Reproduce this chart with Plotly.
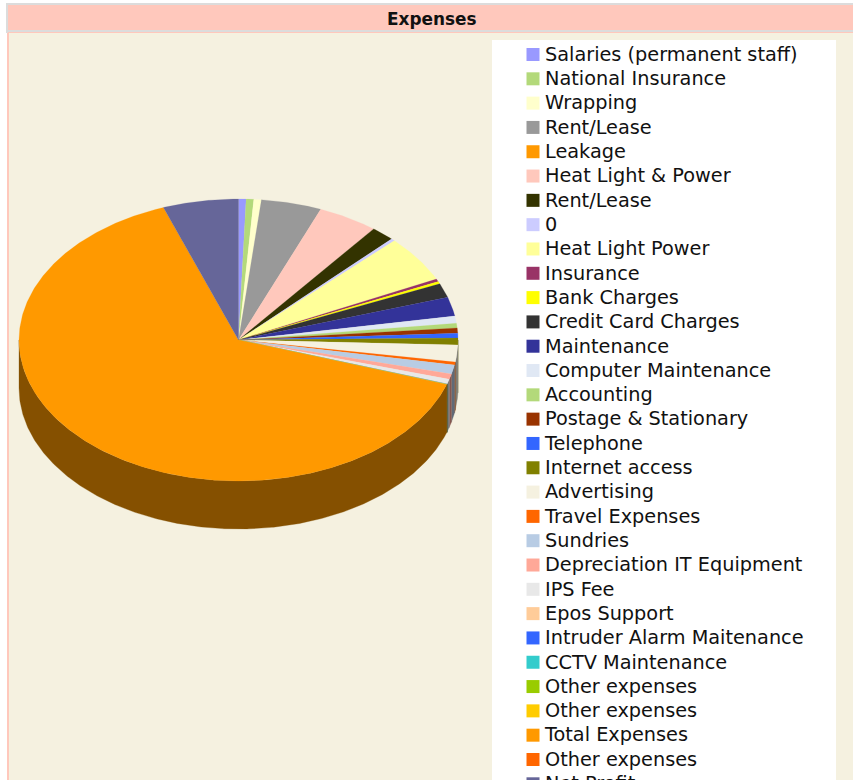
import math
import plotly.graph_objects as go

TITLE = "Expenses"
categories = ["Salaries (permanent staff)", "National Insurance", "Wrapping", "Rent/Lease", "Leakage",
              "Heat Light & Power", "Rent/Lease", "0", "Heat Light Power", "Insurance", "Bank Charges",
              "Credit Card Charges", "Maintenance", "Computer Maintenance", "Accounting",
              "Postage & Stationary", "Telephone", "Internet access", "Advertising", "Travel Expenses",
              "Sundries", "Depreciation IT Equipment", "IPS Fee", "Epos Support", "Intruder Alarm Maitenance",
              "CCTV Maintenance", "Other expenses", "Other expenses", "Total Expenses", "Other expenses",
              "Net Profit"]
# slice sizes (shares of a 360 total)
values = [2.0, 2.0, 2.0, 16.0, 0.0, 16.0, 6.2, 1.0, 19.2, 1.1, 1.0, 5.9, 7.8, 3.0, 1.9, 2.2, 1.9, 2.8,
          7.0, 1.2, 3.8, 2.2, 2.0, 0.05, 0.05, 0.05, 0.05, 0.05, 231.55, 0.0, 20.0]
colors = ["#9999FF", "#B3D97A", "#FFFFCC", "#999999", "#FF9900", "#FFC8BC", "#333300", "#CCCCFF", "#FFFF99",
          "#993366", "#FFFF00", "#333333", "#333399", "#E0E8F4", "#B3D97A", "#993300", "#3366FF", "#808000",
          "#F5F1E0", "#FF6600", "#B8CCE4", "#FFA898", "#E8E8E8", "#FFCC99", "#3366FF", "#33CCCC", "#99CC00",
          "#FFCC00", "#FF9900", "#FF6600", "#666699"]

W, H = 853, 830
CX, CY, RX, RY, DEPTH = 238.5, 340.0, 219.5, 141.0, 48.0
SHADE = 0.52
BG, HEAD, GREY = "#F5F1E0", "#FFC8BC", "#DCDCDC"
FONT = "DejaVu Sans, Verdana, sans-serif"


def shade(c):
    r, g, b = (int(c[i:i + 2], 16) for i in (1, 3, 5))
    return f"rgb({r * SHADE:.0f},{g * SHADE:.0f},{b * SHADE:.0f})"


def rim(deg, dy=0.0):
    a = math.radians(deg)
    return CX + RX * math.sin(a), CY - RY * math.cos(a) + dy


def arc(a0, a1, dy=0.0):
    n = max(2, int((a1 - a0) * 2) + 2)
    return [rim(a0 + (a1 - a0) * k / (n - 1), dy) for k in range(n)]


total = sum(values)
fig = go.Figure()
spans, acc = [], 0.0
for v in values:
    d = v / total * 360
    spans.append((acc, acc + d))
    acc += d

# side wall (only the front half of the cylinder is visible)
for (a0, a1), c, name in zip(spans, colors, categories):
    lo, hi = max(a0, 90), min(a1, 270)
    if hi <= lo:
        continue
    pts = arc(lo, hi) + arc(lo, hi, DEPTH)[::-1]
    fig.add_trace(go.Scatter(x=[p[0] for p in pts] + [pts[0][0]], y=[p[1] for p in pts] + [pts[0][1]],
                             mode="lines", fill="toself", fillcolor=shade(c),
                             line=dict(width=0.3, color=shade(c)), hoverinfo="skip", showlegend=False))
# top face
for (a0, a1), c, name, v in zip(spans, colors, categories, values):
    if a1 <= a0:
        continue
    pts = [(CX, CY)] + arc(a0, a1)
    fig.add_trace(go.Scatter(x=[p[0] for p in pts] + [CX], y=[p[1] for p in pts] + [CY],
                             mode="lines", fill="toself", fillcolor=c, line=dict(width=0.2, color=c),
                             name=name, text=f"{name}: {v:g}", hoverinfo="text", showlegend=False))

# legend list
LEG_X, LEG_Y, LEG_STEP, TEXT_DY = 533.0, 54.5, 24.31, 1.5
ys = [LEG_Y + LEG_STEP * i for i in range(len(categories))]
fig.add_trace(go.Scatter(x=[LEG_X] * len(ys), y=ys, mode="markers",
                         marker=dict(symbol="square", size=13, color=colors, line=dict(width=0)),
                         hoverinfo="skip", showlegend=False))
fig.add_trace(go.Scatter(x=[LEG_X + 12] * len(ys), y=[y + TEXT_DY for y in ys], mode="text", text=categories,
                         textposition="middle right", textfont=dict(family=FONT, size=19.3, color="#111111"),
                         hoverinfo="skip", showlegend=False))

rect = lambda x0, y0, x1, y1, c: dict(type="rect", xref="x", yref="y", x0=x0, y0=y0, x1=x1, y1=y1,
                                      fillcolor=c, line=dict(width=0), layer="below")
fig.update_layout(
    width=W, height=H, autosize=False, margin=dict(l=0, r=0, t=0, b=0),
    paper_bgcolor="white", plot_bgcolor="white", showlegend=False,
    xaxis=dict(range=[0, W], visible=False, fixedrange=True),
    yaxis=dict(range=[H, 0], visible=False, fixedrange=True),
    shapes=[
        rect(7, 33, W, H, BG),
        rect(7, 32, 9, H, HEAD),
        rect(6, 3, W, 33, GREY),
        rect(8, 5, W, 30, HEAD),
        rect(8, 32, W, 33, HEAD),
        rect(492, 40, 836, H, "white"),
    ],
    annotations=[dict(x=432, y=18.5, xref="x", yref="y", text=f"<b>{TITLE}</b>", showarrow=False,
                      font=dict(family=FONT, size=16.9, color="#111111"))],
)
fig.write_html("out.html", config={"displayModeBar": False},
               post_script="document.body.style.margin='0';document.documentElement.style.overflow='hidden';document.body.style.overflow='hidden';")
